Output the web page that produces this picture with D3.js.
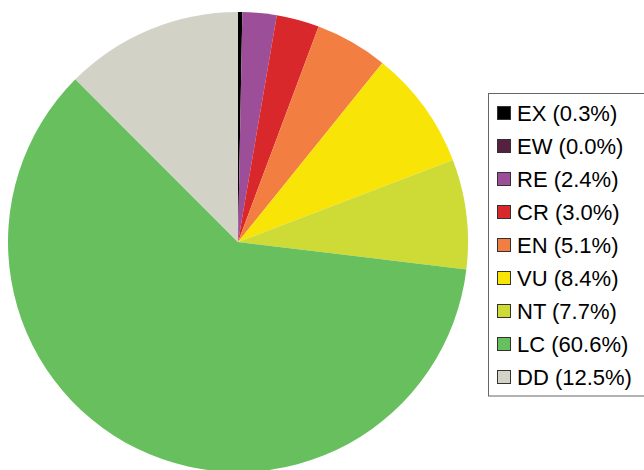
<!DOCTYPE html>
<html><head><meta charset="utf-8">
<script src="https://cdn.jsdelivr.net/npm/d3@7"></script>
<style>html,body{margin:0;padding:0;background:#fff;}</style>
</head><body>
<svg id="chart" width="644" height="470"></svg>
<script>
const categories = ["EX","EW","RE","CR","EN","VU","NT","LC","DD"];
const values = [0.3,0.0,2.4,3.0,5.1,8.4,7.7,60.6,12.5];
const colors = ["#000000","#56203f","#9c4f98","#d9282b","#f37e42","#f8e407","#cedb36","#68bf5e","#d3d2c7"];

const svg = d3.select("#chart");
const cx = 238, cy = 242, r = 230;
const pie = d3.pie().sort(null).value(d => d.v);
const arc = d3.arc().innerRadius(0).outerRadius(r);
const data = categories.map((c,i)=>({c, v: values[i], col: colors[i]}));
const g = svg.append("g").attr("transform", `translate(${cx},${cy})`);
g.selectAll("path").data(pie(data)).enter().append("path")
  .attr("d", arc).attr("fill", d => d.data.col);

// legend
const lg = svg.append("g");
lg.append("rect").attr("x",488.5).attr("y",93.5).attr("width",170).attr("height",302.5)
  .attr("fill","#fff").attr("stroke","#666").attr("stroke-width",1);
const y = d3.scalePoint().domain(categories).range([121,385]);
const items = lg.selectAll("g.item").data(data).enter().append("g").attr("class","item");
items.append("rect").attr("x",497.5).attr("y",d=>y(d.c)-14.5).attr("width",13).attr("height",13)
  .attr("fill",d=>d.col).attr("stroke","#333").attr("stroke-width",1);
items.append("text").attr("x",517).attr("y",d=>y(d.c))
  .attr("font-family","Liberation Sans, Arial, sans-serif").attr("font-size",22).attr("fill","#000")
  .text(d=>`${d.c} (${d.v.toFixed(1)}%)`);
</script>
</body></html>
